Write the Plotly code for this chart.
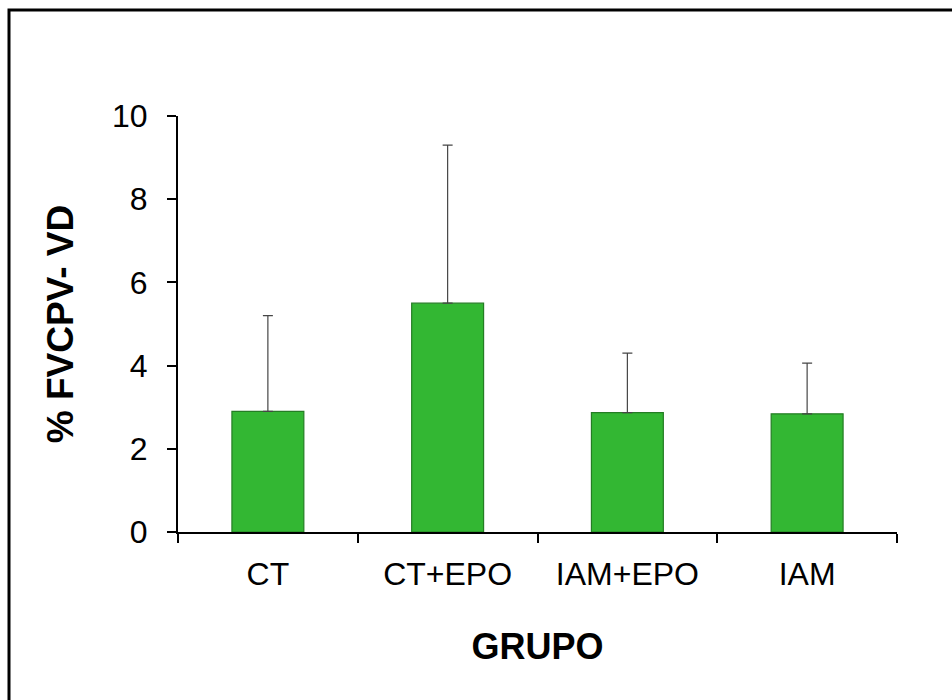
import plotly.graph_objects as go

categories = ["CT", "CT+EPO", "IAM+EPO", "IAM"]
means = [2.9, 5.5, 2.87, 2.84]
sd_plus = [2.3, 3.8, 1.43, 1.22]
y_ticks = [0, 2, 4, 6, 8, 10]

FONT = "Liberation Sans, Arial, sans-serif"

fig = go.Figure()
fig.add_trace(go.Bar(
    x=categories,
    y=means,
    width=0.4,
    marker=dict(color="rgb(51,183,51)", line=dict(color="rgb(36,125,36)", width=1.2)),
    error_y=dict(type="data", array=sd_plus, symmetric=False, arrayminus=[0]*len(means),
                 color="rgb(70,70,70)", thickness=1.2, width=5),
))

fig.update_layout(
    width=952, height=700,
    margin=dict(l=178, r=55, t=116, b=168),
    paper_bgcolor="white", plot_bgcolor="white",
    showlegend=False,
    font=dict(family=FONT, color="black"),
    xaxis=dict(
        showline=True, linecolor="black", linewidth=2,
        ticks="outside", tickson="boundaries", ticklen=9, tickwidth=2, tickcolor="black",
        tickfont=dict(size=32, family=FONT, color="black"),
        ticklabelstandoff=13,
        title=dict(text="<b>GRUPO</b>", font=dict(size=36, family=FONT, color="black"), standoff=42),
        showgrid=False, zeroline=False,
    ),
    yaxis=dict(
        range=[0, 10], tickvals=y_ticks,
        showline=True, linecolor="black", linewidth=2,
        ticks="outside", ticklen=9, tickwidth=2, tickcolor="black",
        tickfont=dict(size=32, family=FONT, color="black"),
        ticklabelstandoff=13,
        title=dict(text="<b>% FVCPV- VD</b>", font=dict(size=37, family=FONT, color="black"), standoff=27),
        showgrid=False, zeroline=False,
    ),
    shapes=[dict(type="rect", xref="paper", yref="paper",
                 x0=(9 - 178) / 719, x1=(970 - 178) / 719,
                 y0=(532 - 720) / 416, y1=(532 - 10) / 416,
                 line=dict(color="black", width=3), fillcolor="rgba(0,0,0,0)", layer="below")],
)

fig.write_html("out.html")
